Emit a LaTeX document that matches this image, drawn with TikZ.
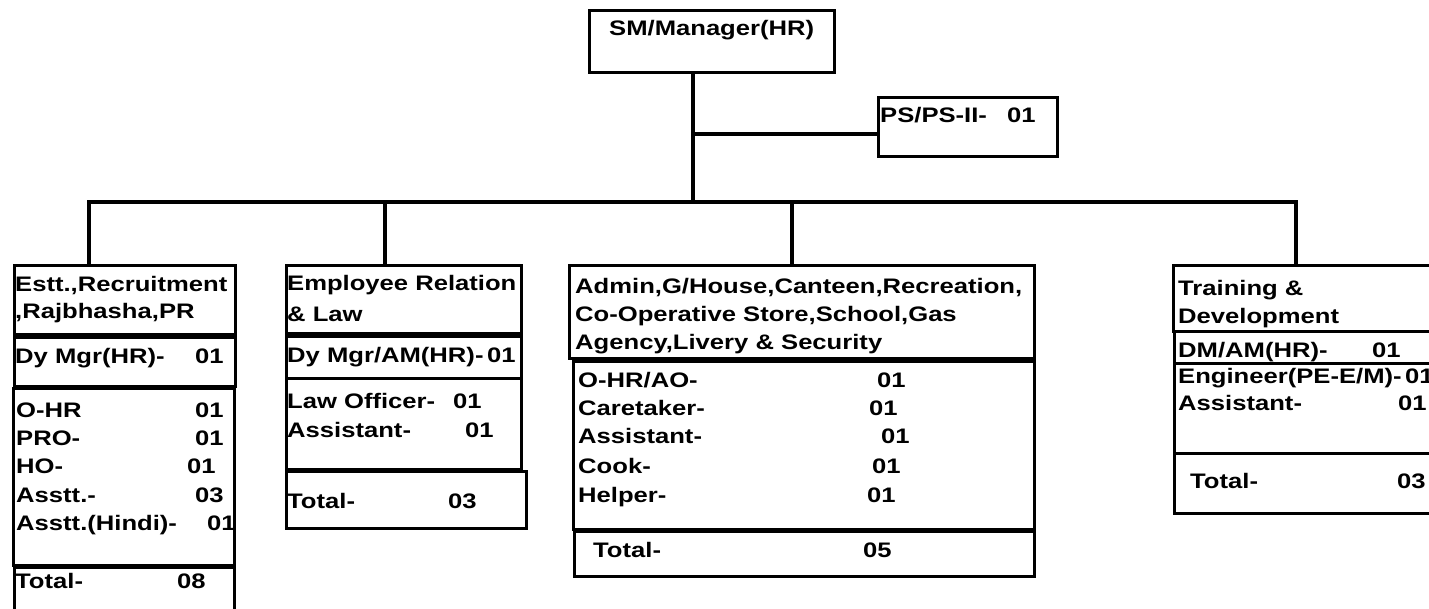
\documentclass[tikz,border=0pt]{standalone}
\usepackage{fontspec}
\newfontfamily\chartfont{Liberation Sans}[FakeStretch=1.22]

\begin{document}
\begin{tikzpicture}[x=1pt, y=-1pt,
        box/.style={draw, line width=3.2pt, anchor=north west, inner sep=0pt},
        txt/.style={anchor=base west, inner sep=0pt,
            font=\chartfont\bfseries\fontsize{21}{28}\selectfont},
        link/.style={line width=3.2pt}]
    \useasboundingbox (0,0) rectangle (1429,608);

    % head of department and PS
    \node[box, minimum width=245pt, minimum height=62pt] (mgr) at (588,9) {};
    \node[txt] (mgrtxt) at (609,35) {SM/Manager(HR)};
    \node[box, minimum width=179pt, minimum height=59pt] (ps) at (877,96) {};
    \node[txt] (pstxt) at (880,122) {PS/PS-II-};
    \node[txt] (psnum) at (1007,122) {01};

    % Estt., Recruitment
    \node[box, minimum width=221pt, minimum height=69pt] (esthead) at (13,264) {};
    \node[box, minimum width=221pt, minimum height=49pt] (estdy) at (13,336) {};
    \node[box, minimum width=221pt, minimum height=177pt] (estitems) at (12,387) {};
    \node[box, minimum width=220pt, minimum height=60pt] (esttotal) at (13,566) {};
    \node[txt] (esth1) at (15,291) {Estt.,Recruitment};
    \node[txt] (esth2) at (15,318) {,Rajbhasha,PR};
    \node[txt] (estdytxt) at (15,363) {Dy Mgr(HR)-};
    \node[txt] (estdynum) at (195,363) {01};
    \foreach \lbl/\num/\nx/\y [count=\i] in {O-HR/01/195/417, PRO-/01/195/445,
            HO-/01/187/473, Asstt.-/03/195/502, Asstt.(Hindi)-/01/207/530}
        {
            \node[txt] (estl\i) at (16,\y) {\lbl};
            \node[txt] (estn\i) at (\nx,\y) {\num};
        }
    \node[txt] (esttot) at (15,588) {Total-};
    \node[txt] (esttotnum) at (177,588) {08};

    % Employee Relation & Law
    \node[box, minimum width=235pt, minimum height=68pt] (lawhead) at (285,264) {};
    \node[box, minimum width=235pt, minimum height=42pt] (lawdy) at (285,335) {};
    \node[box, minimum width=235pt, minimum height=91pt] (lawitems) at (285,377) {};
    \node[box, minimum width=240pt, minimum height=57pt] (lawtotal) at (285,470) {};
    \node[txt] (lawh1) at (287,290) {Employee Relation};
    \node[txt] (lawh2) at (287,321) {\& Law};
    \node[txt] (lawdytxt) at (287,362) {Dy Mgr/AM(HR)-\,01};
    \foreach \lbl/\num/\nx/\y [count=\i] in {Law Officer-/01/453/408, Assistant-/01/465/437}
        {
            \node[txt] (lawl\i) at (287,\y) {\lbl};
            \node[txt] (lawn\i) at (\nx,\y) {\num};
        }
    \node[txt] (lawtot) at (287,508) {Total-};
    \node[txt] (lawtotnum) at (448,508) {03};

    % Admin, G/House, ...
    \node[box, minimum width=465pt, minimum height=93pt] (admhead) at (568,264) {};
    \node[box, minimum width=461pt, minimum height=168pt] (admitems) at (572,360) {};
    \node[box, minimum width=460pt, minimum height=45pt] (admtotal) at (573,530) {};
    \node[txt] (admh1) at (575,293) {Admin,G/House,Canteen,Recreation,};
    \node[txt] (admh2) at (575,321) {Co-Operative Store,School,Gas};
    \node[txt] (admh3) at (575,349) {Agency,Livery \& Security};
    \foreach \lbl/\num/\nx/\y [count=\i] in {{O-HR/AO-}/01/877/387, Caretaker-/01/869/415,
            Assistant-/01/881/443, Cook-/01/872/473, Helper-/01/867/502}
        {
            \node[txt] (adml\i) at (578,\y) {\lbl};
            \node[txt] (admn\i) at (\nx,\y) {\num};
        }
    \node[txt] (admtot) at (593,557) {Total-};
    \node[txt] (admtotnum) at (863,557) {05};

    % Training & Development
    \node[box, minimum width=270pt, minimum height=66pt] (trghead) at (1172,264) {};
    \node[box, minimum width=270pt, minimum height=32pt] (trgdy) at (1173,330) {};
    \node[box, minimum width=270pt, minimum height=90pt] (trgitems) at (1173,362) {};
    \node[box, minimum width=270pt, minimum height=60pt] (trgtotal) at (1173,452) {};
    \node[txt] (trgh1) at (1178,295) {Training \&};
    \node[txt] (trgh2) at (1178,323) {Development};
    \node[txt] (trgdytxt) at (1178,357) {DM/AM(HR)-};
    \node[txt] (trgdynum) at (1372,357) {01};
    \node[txt] (trgl1) at (1178,383) {Engineer(PE-E/M)-\,01};
    \node[txt] (trgl2) at (1178,410) {Assistant-};
    \node[txt] (trgn2) at (1398,410) {01};
    \node[txt] (trgtot) at (1190,488) {Total-};
    \node[txt] (trgtotnum) at (1397,488) {03};

    % connectors
    \coordinate (bus) at (693,202);
    \coordinate (psj) at (693,134);
    \coordinate (d1) at (89,202);
    \coordinate (d2) at (385,202);
    \coordinate (d3) at (792,202);
    \coordinate (d4) at (1296,202);
    \draw[link] (mgr.south -| bus) -- (bus);
    \draw[link] (psj) -- (psj -| ps.west);
    \draw[link] (esthead.north -| d1) -- (d1) -- (d4) -- (trghead.north -| d4);
    \foreach \d/\b in {d2/lawhead, d3/admhead}
        \draw[link] (\d) -- (\d |- \b.north);
\end{tikzpicture}
\end{document}
